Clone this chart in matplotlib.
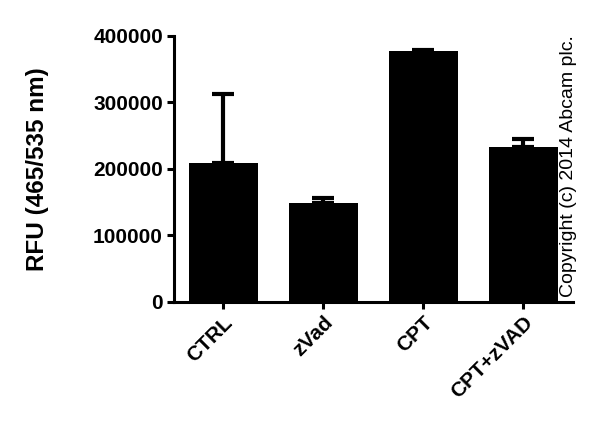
import numpy as np
import matplotlib.pyplot as plt

plt.rcParams['font.family'] = ['Liberation Sans', 'DejaVu Sans']

groups = ["CTRL", "zVad", "CPT", "CPT+zVAD"]
rfu = [209000, 148000, 377500, 232500]
rfu_err = [104000, 8000, 1500, 12500]
y_ticks = [0, 100000, 200000, 300000, 400000]

fig = plt.figure(figsize=(6, 4.22), dpi=100)
ax = fig.add_axes([0.29, 0.285, 0.665, 0.63])

x = np.arange(len(groups))
ax.bar(x, rfu, width=0.69, color="black", zorder=2)
ax.errorbar(x, rfu, yerr=[np.zeros(len(rfu)), rfu_err], fmt="none",
            ecolor="black", elinewidth=3, capsize=8, capthick=3, zorder=1)

ax.set_xlim(-0.49, 3.5)
ax.set_ylim(0, 400000)
ax.set_yticks(y_ticks)
ax.set_yticklabels([str(v) for v in y_ticks], fontsize=15, fontweight="bold")
ax.set_xticks(x)
ax.set_xticklabels(groups, rotation=45, ha="right", rotation_mode="anchor",
                   fontsize=15, fontweight="bold")
ax.set_ylabel("RFU (465/535 nm)", fontsize=17.5, fontweight="bold", labelpad=32)

for side in ["top", "right"]:
    ax.spines[side].set_visible(False)
for side in ["left", "bottom"]:
    ax.spines[side].set_linewidth(2.2)
ax.tick_params(width=2.2, length=5, direction="out", pad=3)

fig.text(0.947, 0.607, "Copyright (c) 2014 Abcam plc.", rotation=90,
         ha="center", va="center", fontsize=14)

fig.savefig("out.png", dpi=100)
